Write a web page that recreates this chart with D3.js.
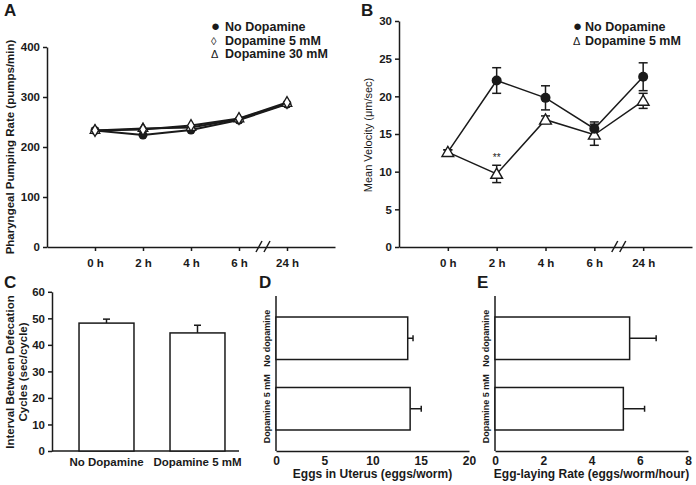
<!DOCTYPE html>
<html><head><meta charset="utf-8">
<script src="https://cdn.jsdelivr.net/npm/d3@7"></script>
<style>
body{margin:0;background:#fff}
text{font-family:"Liberation Sans",Arial,sans-serif;fill:#1a1a1a}
</style></head>
<body>
<svg id="c" width="696" height="485"></svg>
<script>
// ---------- data ----------
const timeLabels = ["0 h","2 h","4 h","6 h","24 h"];
// Panel A: pharyngeal pumping rate
const pumpNoDopamine = [233, 224, 234, 254, 286];
const pumpDopa5 = [233, 235, 243, 257, 289];
const pumpDopa30 = [233, 237, 239, 256, 287];
// Panel B: mean velocity
const velNoDopamine = [12.6, 22.1, 19.8, 15.7, 22.6];
const velNoDopamineErr = [0.3, 1.7, 1.6, 0.9, 1.85];
const velDopa5 = [12.6, 9.7, 16.9, 14.9, 19.4];
const velDopa5Err = [0.3, 1.15, 0.5, 1.4, 1.0];
// Panel C: defecation interval
const defecCats = ["No Dopamine","Dopamine 5 mM"];
const defecVals = [48.2, 44.5];
const defecErr = [1.5, 2.9];
// Panel D / E
const eggCats = ["No dopamine","Dopamine 5 mM"];
const eggsUterus = [13.65, 13.9];
const eggsUterusErr = [0.55, 1.15];
const eggRate = [5.58, 5.32];
const eggRateErr = [1.1, 0.88];

const svg = d3.select("#c");
const stroke = "#1a1a1a";

function styleAxis(g, bold, size){
  g.selectAll("path,line").attr("stroke",stroke).attr("stroke-width",1.5);
  g.selectAll("text").style("font-size",(size||11.5)+"px").style("font-weight",bold?"bold":"normal").attr("fill",stroke);
}
function panelLabel(t,x,y){
  svg.append("text").attr("x",x).attr("y",y).text(t).style("font-size","17px").style("font-weight","bold");
}
function breakMark(x,y){
  [-4,4].forEach(d=>{
    svg.append("line").attr("x1",x+d-3).attr("y1",y+5).attr("x2",x+d+3).attr("y2",y-6)
      .attr("stroke",stroke).attr("stroke-width",1.5);
  });
}
const tri = d3.symbol().type(d3.symbolTriangle);
const dia = d3.symbol().type(d3.symbolDiamond);

// ---------- Panel A ----------
{
  const x = d3.scaleLinear().domain([-1,5]).range([47,335]);
  const y = d3.scaleLinear().domain([0,400]).range([247,47]);
  svg.append("g").attr("transform","translate(47,0)")
    .call(d3.axisLeft(y).tickValues([0,100,200,300,400]).tickSize(4).tickPadding(3).tickSizeOuter(0))
    .call(g=>styleAxis(g,true));
  svg.append("g").attr("transform","translate(0,247)")
    .call(d3.axisBottom(x).tickValues([0,1,2,3,4]).tickFormat((d,i)=>timeLabels[i]).tickSize(4).tickPadding(8).tickSizeOuter(0))
    .call(g=>styleAxis(g,true));
  breakMark((x(3)+x(4))/2,247);
  const line = d3.line().x((d,i)=>x(i)).y(d=>y(d));
  [pumpDopa30,pumpDopa5,pumpNoDopamine].forEach(s=>{
    svg.append("path").attr("d",line(s)).attr("fill","none").attr("stroke",stroke).attr("stroke-width",2);
  });
  pumpNoDopamine.forEach((v,i)=>svg.append("circle").attr("cx",x(i)).attr("cy",y(v)).attr("r",4.5).attr("fill",stroke));
  pumpDopa30.forEach((v,i)=>svg.append("path").attr("d",tri.size(40)()).attr("transform",`translate(${x(i)},${y(v)})`).attr("fill","#fff").attr("stroke",stroke).attr("stroke-width",1.3));
  pumpDopa5.forEach((v,i)=>svg.append("path").attr("d",dia.size(40)()).attr("transform",`translate(${x(i)},${y(v)})`).attr("fill","#fff").attr("stroke",stroke).attr("stroke-width",1.3));
  svg.append("text").attr("transform","translate(14,147) rotate(-90)").attr("text-anchor","middle")
    .text("Pharyngeal Pumping Rate (pumps/min)").style("font-size","11.5px").style("font-weight","bold");
  const leg = [["●","No Dopamine"],["◊","Dopamine 5 mM"],["Δ","Dopamine 30 mM"]];
  leg.forEach((l,i)=>{
    const t = svg.append("text").attr("x",211).attr("y",31+i*13.5).style("font-size","12.5px").style("font-weight","bold");
    t.append("tspan").text(l[0]).style("font-weight","normal").style("font-size", i==0?"15px":"11px");
    t.append("tspan").attr("x",225).text(l[1]);
  });
  panelLabel("A",4,16);
}

// ---------- Panel B ----------
{
  const x = d3.scaleLinear().domain([-1,5]).range([399,692]);
  const y = d3.scaleLinear().domain([0,30]).range([247,21]);
  svg.append("g").attr("transform","translate(399,0)")
    .call(d3.axisLeft(y).tickValues([0,5,10,15,20,25,30]).tickSize(4).tickPadding(3).tickSizeOuter(0))
    .call(g=>styleAxis(g,true));
  svg.append("g").attr("transform","translate(0,247)")
    .call(d3.axisBottom(x).tickValues([0,1,2,3,4]).tickFormat((d,i)=>timeLabels[i]).tickSize(4).tickPadding(8).tickSizeOuter(0))
    .call(g=>styleAxis(g,true));
  breakMark((x(3)+x(4))/2,247);
  const line = d3.line().x((d,i)=>x(i)).y(d=>y(d));
  const series = [[velDopa5,velDopa5Err],[velNoDopamine,velNoDopamineErr]];
  series.forEach(([s,e])=>{
    svg.append("path").attr("d",line(s)).attr("fill","none").attr("stroke",stroke).attr("stroke-width",1.5);
    s.forEach((v,i)=>{
      const cx=x(i), y1=y(v+e[i]), y2=y(v-e[i]);
      svg.append("line").attr("x1",cx).attr("x2",cx).attr("y1",y1).attr("y2",y2).attr("stroke",stroke).attr("stroke-width",1.5);
      [y1,y2].forEach(yy=>svg.append("line").attr("x1",cx-4.5).attr("x2",cx+4.5).attr("y1",yy).attr("y2",yy).attr("stroke",stroke).attr("stroke-width",1.5));
    });
  });
  velDopa5.forEach((v,i)=>svg.append("path").attr("d",tri.size(60)()).attr("transform",`translate(${x(i)},${y(v)+1})`).attr("fill","#fff").attr("stroke",stroke).attr("stroke-width",1.4));
  velNoDopamine.forEach((v,i)=>{ if(i>0) svg.append("circle").attr("cx",x(i)).attr("cy",y(v)).attr("r",5).attr("fill",stroke); });
  svg.append("text").attr("x",x(1)).attr("y",y(velDopa5[1]+velDopa5Err[1])-4).attr("text-anchor","middle").text("**").style("font-size","10px");
  svg.append("text").attr("transform","translate(372,135) rotate(-90)").attr("text-anchor","middle")
    .text("Mean Velocity (μm/sec)").style("font-size","11px");
  const leg = [["●","No Dopamine"],["Δ","Dopamine 5 mM"]];
  leg.forEach((l,i)=>{
    const t = svg.append("text").attr("x",573).attr("y",31+i*13.5).style("font-size","12.5px").style("font-weight","bold");
    t.append("tspan").text(l[0]).style("font-weight","normal").style("font-size", i==0?"15px":"11px");
    t.append("tspan").attr("x",585).text(l[1]);
  });
  panelLabel("B",361,16);
}

// ---------- Panel C ----------
{
  const x = d3.scaleBand().domain(defecCats).range([52,252]).paddingInner(0.396).paddingOuter(0.297);
  const y = d3.scaleLinear().domain([0,60]).range([451,291.8]);
  svg.append("g").attr("transform","translate(52,0)")
    .call(d3.axisLeft(y).tickValues([0,10,20,30,40,50,60]).tickSize(4).tickPadding(3).tickSizeOuter(0))
    .call(g=>styleAxis(g,true));
  svg.append("line").attr("x1",52).attr("x2",239).attr("y1",451).attr("y2",451).attr("stroke",stroke).attr("stroke-width",1.5);
  defecCats.forEach((c,i)=>{
    const cx = x(c)+x.bandwidth()/2;
    svg.append("line").attr("x1",cx).attr("x2",cx).attr("y1",y(defecVals[i])).attr("y2",y(defecVals[i]+defecErr[i])).attr("stroke",stroke).attr("stroke-width",1.5);
    svg.append("line").attr("x1",cx-3.5).attr("x2",cx+3.5).attr("y1",y(defecVals[i]+defecErr[i])).attr("y2",y(defecVals[i]+defecErr[i])).attr("stroke",stroke).attr("stroke-width",1.5);
    svg.append("rect").attr("x",x(c)).attr("y",y(defecVals[i])).attr("width",x.bandwidth()).attr("height",y(0)-y(defecVals[i]))
      .attr("fill","#fff").attr("stroke",stroke).attr("stroke-width",1.5);
    svg.append("text").attr("x",cx).attr("y",466).attr("text-anchor","middle").text(c).style("font-size","11.5px").style("font-weight","bold");
  });
  const t = svg.append("text").attr("transform","translate(0,372) rotate(-90)").attr("text-anchor","middle").style("font-size","11.5px").style("font-weight","bold");
  t.append("tspan").attr("x",0).attr("y",14).text("Interval Between Defecation");
  t.append("tspan").attr("x",0).attr("y",27).text("Cycles (sec/cycle)");
  panelLabel("C",4,288);
}

// ---------- Panels D & E ----------
function hbar(x0,x1,max,ticks,vals,errs,label,letter,lx){
  const x = d3.scaleLinear().domain([0,max]).range([x0,x1]);
  const y = d3.scaleBand().domain(eggCats).range([296,451]).paddingInner(0.397).paddingOuter(0.298);
  svg.append("g").attr("transform","translate(0,451)")
    .call(d3.axisBottom(x).tickValues(ticks).tickSize(0).tickPadding(5).tickSizeOuter(0))
    .call(g=>styleAxis(g,true,12));
  svg.append("line").attr("x1",x0).attr("x2",x0).attr("y1",296).attr("y2",451).attr("stroke",stroke).attr("stroke-width",1.5);
  eggCats.forEach((c,i)=>{
    const cy = y(c)+y.bandwidth()/2;
    svg.append("line").attr("x1",x(vals[i])).attr("x2",x(vals[i]+errs[i])).attr("y1",cy).attr("y2",cy).attr("stroke",stroke).attr("stroke-width",1.5);
    svg.append("line").attr("x1",x(vals[i]+errs[i])).attr("x2",x(vals[i]+errs[i])).attr("y1",cy-3).attr("y2",cy+3).attr("stroke",stroke).attr("stroke-width",1.5);
    svg.append("rect").attr("x",x(0)).attr("y",y(c)).attr("width",x(vals[i])-x(0)).attr("height",y.bandwidth())
      .attr("fill","#fff").attr("stroke",stroke).attr("stroke-width",1.5);
    svg.append("text").attr("transform",`translate(${x0-6},${cy}) rotate(-90)`).attr("text-anchor","middle").text(c).style("font-size","9px").style("font-weight","600");
  });
  svg.append("text").attr("x",(x0+x1)/2).attr("y",478).attr("text-anchor","middle").text(label).style("font-size","12px").style("font-weight","bold");
  panelLabel(letter,lx,288);
}
hbar(276,469,20,[0,5,10,15,20],eggsUterus,eggsUterusErr,"Eggs in Uterus (eggs/worm)","D",259);
hbar(495,688,8,[0,2,4,6,8],eggRate,eggRateErr,"Egg-laying Rate (eggs/worm/hour)","E",477);
</script>
</body></html>
